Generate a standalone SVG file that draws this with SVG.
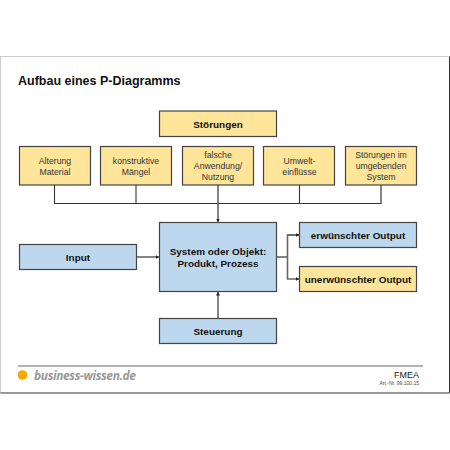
<svg xmlns="http://www.w3.org/2000/svg" width="450" height="450" viewBox="0 0 450 450">
<defs>
<marker id="arr" markerUnits="userSpaceOnUse" markerWidth="5" markerHeight="5" refX="3.5" refY="2" orient="auto"><path d="M0,0 L3.5,2 L0,4 Z" fill="#222"/></marker>
</defs>
<style>
text{font-family:"Liberation Sans",Arial,sans-serif;text-anchor:middle;fill:#111}
.y{fill:#ffe599;stroke:#444;stroke-width:1.2}
.b{fill:#bdd7ee;stroke:#444;stroke-width:1.2}
.s{font-size:8.7px;fill:#333}
.h{font-size:9.95px;font-weight:bold}
.c{fill:none;stroke:#333;stroke-width:1.1}
.c2{fill:none;stroke:#666;stroke-width:1.6}
</style>
<rect width="450" height="450" fill="#fff"/>
<g id="frame" fill="none">
<path d="M0.5,393 V56.5 H449.5" stroke="#ccc" stroke-width="1.2"/>
<path d="M449.5,56.5 V393 H0.5" stroke="#333" stroke-width="1"/>
</g>
<text x="18" y="85" style="text-anchor:start;font-size:12.5px;font-weight:bold">Aufbau eines P-Diagramms</text>
<g id="connectors">
<path class="c" d="M54.5,185 V203.5 H381"/>
<path class="c" d="M136,185 V203.5"/>
<path class="c2" d="M218,185 V203.5"/>
<path class="c" d="M299.5,185 V203.5"/>
<path class="c2" d="M381,185 V204"/>
<path class="c2" d="M218,203.5 V222" marker-end="url(#arr)"/>
<path class="c2" d="M136.5,257 H159" marker-end="url(#arr)"/>
<path class="c2" d="M218,318.5 V292" marker-end="url(#arr)"/>
<path class="c2" d="M276.5,257 H287.5"/>
<path class="c2" d="M299,235 H287.5 V279 H299" marker-end="url(#arr)"/>
<path class="c2" d="M287.5,235 H299" marker-end="url(#arr)"/>
</g>
<g id="stoerungen"><rect class="y" x="159.5" y="111" width="117" height="25.5"/><text class="h" x="218" y="127.5">Störungen</text></g>
<g id="alterung"><rect class="y" x="19.5" y="146.5" width="71" height="38.5"/><text class="s" x="55" y="164">Alterung</text><text class="s" x="55" y="174.5">Material</text></g>
<g id="konstruktiv"><rect class="y" x="100.5" y="146.5" width="71" height="38.5"/><text class="s" x="136" y="164">konstruktive</text><text class="s" x="136" y="174.5">Mängel</text></g>
<g id="falsche"><rect class="y" x="182.5" y="146.5" width="71" height="38.5"/><text class="s" x="218" y="158">falsche</text><text class="s" x="218" y="169">Anwendung/</text><text class="s" x="218" y="179.5">Nutzung</text></g>
<g id="umwelt"><rect class="y" x="263.5" y="146.5" width="71" height="38.5"/><text class="s" x="299.5" y="164">Umwelt-</text><text class="s" x="299.5" y="174.5">einflüsse</text></g>
<g id="umgebung"><rect class="y" x="345.5" y="146.5" width="71" height="38.5"/><text class="s" x="381" y="158">Störungen im</text><text class="s" x="381" y="169">umgebenden</text><text class="s" x="381" y="179.5">System</text></g>
<g id="input"><rect class="b" x="19.5" y="244.5" width="117" height="25"/><text class="h" x="78" y="261">Input</text></g>
<g id="system"><rect class="b" x="159.5" y="222.5" width="117" height="69"/><text class="h" x="218" y="255">System oder Objekt:</text><text class="h" x="218" y="267">Produkt, Prozess</text></g>
<g id="steuerung"><rect class="b" x="159.5" y="318.5" width="117" height="25"/><text class="h" x="218" y="335">Steuerung</text></g>
<g id="erwuenscht"><rect class="b" x="299.5" y="222.5" width="117" height="25"/><text class="h" x="358" y="239">erwünschter Output</text></g>
<g id="unerwuenscht"><rect class="y" x="299.5" y="266.5" width="117" height="25"/><text class="h" x="358" y="283">unerwünschter Output</text></g>
<g id="footer">
<line x1="18" y1="366" x2="423" y2="366" stroke="#666" stroke-width="1"/>
<circle cx="22.5" cy="375" r="4.8" fill="#f5a800"/>
<text x="34" y="380" style="text-anchor:start;font-family:'Open Sans',sans-serif;font-size:12px;font-weight:bold;font-style:italic;fill:#999" textLength="102">business-wissen.de</text>
<text x="419" y="377.5" style="text-anchor:end;font-size:9px;fill:#222">FMEA</text>
<text x="419" y="384.5" style="text-anchor:end;font-size:5px;fill:#444">Art.-Nr. 99.100.15</text>
</g>
</svg>
